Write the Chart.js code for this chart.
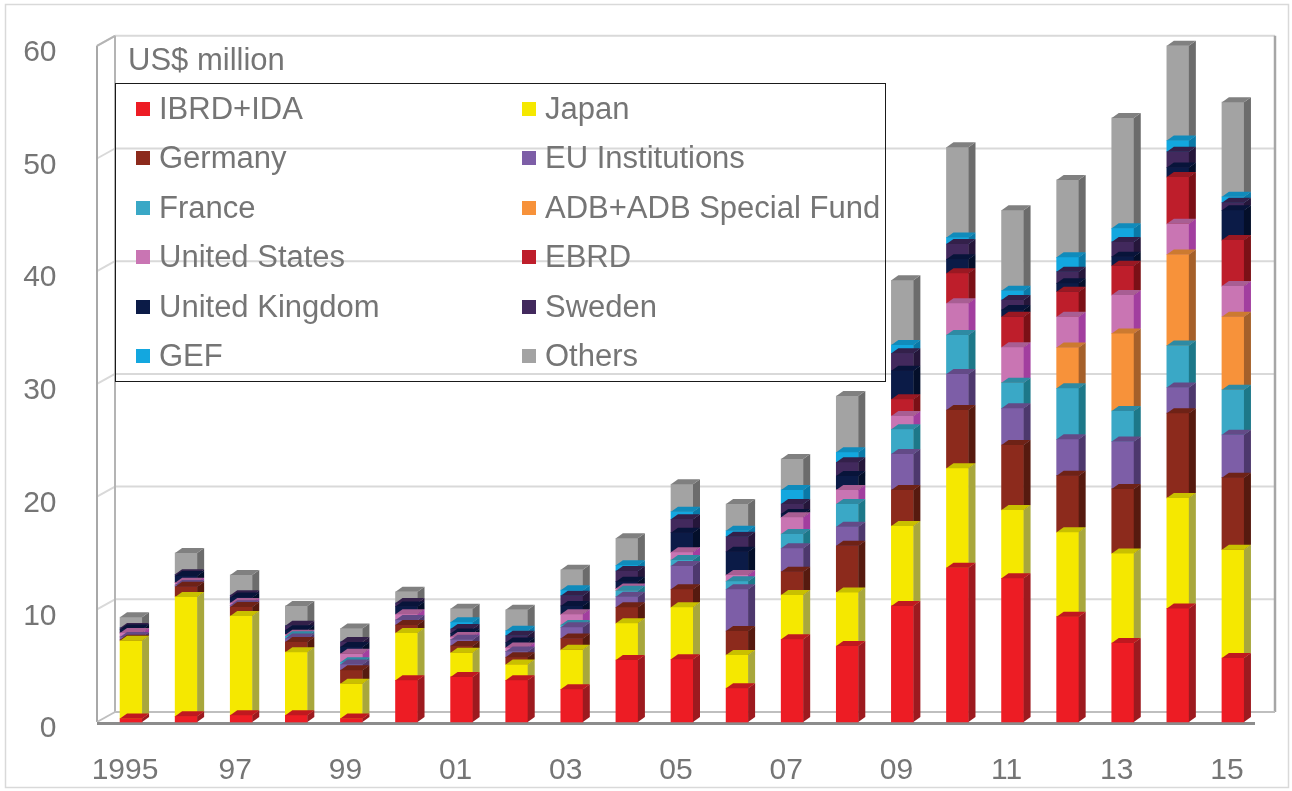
<!DOCTYPE html>
<html><head><meta charset="utf-8">
<script src="https://cdn.jsdelivr.net/npm/chart.js@4.4.1/dist/chart.umd.min.js"></script>
<style>
html,body{margin:0;padding:0;background:#fff;}
#wrap{position:relative;width:1292px;height:791px;overflow:hidden;font-family:"Liberation Sans",Arial,sans-serif;color:#757575;}
#c{position:absolute;left:0;top:0;}
#unit{position:absolute;left:128px;top:41px;font-size:31px;line-height:38px;white-space:nowrap;}
#legend{position:absolute;left:115px;top:83px;width:771px;height:299px;border:1.5px solid #1a1a1a;box-sizing:border-box;}
.li{position:absolute;height:38px;line-height:38px;font-size:31px;white-space:nowrap;}
.sw{position:absolute;width:14px;height:14px;top:12px;left:0;}
.tx{position:absolute;left:23px;top:0;}
</style></head>
<body>
<div id="wrap">
<canvas id="c" width="1292" height="791"></canvas>
<div id="unit">US$ million</div>
<div id="legend"></div>
</div>
<script>
// ---- data (US$ million) ----
const years = ['1995','1996','1997','1998','1999','2000','2001','2002','2003','2004','2005','2006','2007','2008','2009','2010','2011','2012','2013','2014','2015'];
const xTickLabels = ['1995','','97','','99','','01','','03','','05','','07','','09','','11','','13','','15'];
const seriesNames = ['IBRD+IDA','Japan','Germany','EU Institutions','France','ADB+ADB Special Fund','United States','EBRD','United Kingdom','Sweden','GEF','Others'];

const ibrdIda       = [0.3,0.5,0.6,0.6,0.3,3.7,4.0,3.7,2.9,5.5,5.56,3.0,7.34,6.74,10.3,13.69,12.75,9.35,7.0,10.08,5.68];
const japan         = [6.9,10.6,8.8,5.6,3.1,4.2,2.15,1.4,3.5,3.26,4.62,2.95,3.93,4.76,7.09,8.82,6.06,7.48,7.96,9.8,9.6];
const germany       = [0.1,0.9,0.8,0.9,1.2,0.7,0.6,0.65,1.0,1.42,1.6,2.12,2.07,4.14,3.2,5.17,5.77,5.03,5.72,7.52,6.4];
const euInstitutions= [0.25,0.15,0.15,0.3,0.5,0.45,0.55,0.5,1.0,0.94,2.06,3.71,2.07,1.69,3.19,3.2,3.25,3.22,4.2,2.28,3.8];
const france        = [0,0,0,0.2,0.2,0,0,0,0.2,0.53,0.53,0.72,1.27,2.01,2.19,3.46,2.28,4.53,2.72,3.72,4.0];
const adb           = [0,0,0,0,0,0,0,0,0,0,0,0,0,0,0,0,0,3.61,6.88,8.08,6.48];
const unitedStates  = [0.35,0.2,0.2,0.15,0.75,0.5,0.25,0.35,0.95,0.2,0.69,0.54,1.48,1.25,1.18,2.81,3.14,2.74,3.4,2.72,2.72];
const ebrd          = [0,0,0,0,0,0,0,0,0,0,0,0,0,0,1.48,2.66,2.71,2.22,2.6,4.16,4.08];
const unitedKingdom = [0.3,0.6,0.5,0.4,0.6,0.7,0.3,0.45,0.75,0.6,1.74,2.06,0.3,1.24,2.54,1.25,0.6,0.75,0.8,0.84,2.64];
const sweden        = [0.15,0.15,0.2,0.4,0.45,0.3,0.4,0.6,0.9,0.95,1.18,1.34,0.88,1.21,1.54,1.35,0.88,1.03,1.32,1.4,0.68];
const gef           = [0,0,0,0,0,0,0.6,0.45,0.5,0.5,0.68,0.53,1.25,0.89,0.74,0.59,0.83,1.27,1.2,1.0,0.52];
const others        = [0.95,1.9,1.8,1.75,1.2,1.0,1.2,1.85,1.8,2.4,2.44,2.37,2.75,5.0,5.75,8.0,7.13,6.87,9.8,8.4,8.4];

const seriesValues = [ibrdIda,japan,germany,euInstitutions,france,adb,unitedStates,ebrd,unitedKingdom,sweden,gef,others];
const frontColors = ['#ed1c24','#f5e800','#8c2a1c','#7d5ea7','#3aa8c6','#f7923a','#c975b3','#be1e2b','#0b1b47','#42295d','#13a7df','#a3a3a3'];
const sideColors  = ['#9d1a1f','#a8a73c','#561a0f','#4d386d','#1d7889','#a5602a','#a23e9f','#7b1016','#040f2a','#25163a','#0a79a7','#6c6c6c'];
const topColors   = ['#c0181f','#c9c000','#6e2216','#634a87','#2e8aa3','#cc7a30','#a85e93','#9a1822','#08143a','#33204a','#108bbb','#808080'];

const DX = 7, DY = -5;          // bar depth
const WALL_DX = 18, WALL_DY = -10; // back wall offset

const scene3d = {
  id: 'scene3d',
  beforeDraw(chart) {
    const ctx = chart.ctx;
    ctx.save();
    ctx.strokeStyle = '#d9d9d9'; ctx.lineWidth = 1.5;
    ctx.strokeRect(5.5, 4.5, 1283, 783);
    ctx.restore();
  },
  beforeDatasetsDraw(chart) {
    const ctx = chart.ctx, ys = chart.scales.y;
    const wallL = 97, backL = wallL + WALL_DX, backR = 1275, frontR = 1255;
    const y0 = ys.getPixelForValue(0), yTop = ys.getPixelForValue(60);
    ctx.save();
    ctx.lineWidth = 2;
    for (let v = 10; v <= 60; v += 10) {
      const yf = ys.getPixelForValue(v), yb = yf + WALL_DY;
      ctx.strokeStyle = '#d9d9d9';
      ctx.beginPath(); ctx.moveTo(backL, yb); ctx.lineTo(backR, yb); ctx.stroke();
      ctx.beginPath(); ctx.moveTo(wallL, yf); ctx.lineTo(backL, yb); ctx.stroke();
    }
    ctx.strokeStyle = '#a8a8a8'; ctx.lineWidth = 2;
    ctx.beginPath(); ctx.moveTo(wallL, yTop); ctx.lineTo(wallL, y0); ctx.stroke();
    ctx.strokeStyle = '#b4b4b4';
    ctx.beginPath(); ctx.moveTo(backL, yTop + WALL_DY); ctx.lineTo(backL, y0 + WALL_DY); ctx.stroke();
    ctx.beginPath(); ctx.moveTo(wallL, yTop); ctx.lineTo(backL, yTop + WALL_DY); ctx.stroke();
    ctx.strokeStyle = '#a6a6a6'; ctx.lineWidth = 2.5;
    ctx.beginPath(); ctx.moveTo(backR, yTop + WALL_DY); ctx.lineTo(backR, y0 + WALL_DY); ctx.stroke();
    ctx.strokeStyle = '#bfbfbf'; ctx.lineWidth = 2;
    ctx.beginPath(); ctx.moveTo(backL, y0 + WALL_DY); ctx.lineTo(backR, y0 + WALL_DY); ctx.stroke();
    ctx.beginPath(); ctx.moveTo(wallL, y0); ctx.lineTo(backL, y0 + WALL_DY); ctx.stroke();
    ctx.strokeStyle = '#8c8c8c'; ctx.lineWidth = 3;
    ctx.beginPath(); ctx.moveTo(wallL, y0 + 1.5); ctx.lineTo(frontR, y0 + 1.5); ctx.stroke();
    ctx.restore();
  },
  afterDatasetDraw(chart, args) {
    const ctx = chart.ctx, i = args.index, meta = args.meta;
    ctx.save();
    meta.data.forEach(el => {
      const p = el.getProps(['x','y','base','width'], true);
      const h = p.base - p.y;
      if (!(h > 0.05)) return;
      const l = p.x - p.width / 2, r = p.x + p.width / 2;
      ctx.fillStyle = sideColors[i];
      ctx.beginPath();
      ctx.moveTo(r, p.y); ctx.lineTo(r + DX, p.y + DY); ctx.lineTo(r + DX, p.base + DY); ctx.lineTo(r, p.base);
      ctx.closePath(); ctx.fill();
      ctx.fillStyle = topColors[i];
      ctx.beginPath();
      ctx.moveTo(l, p.y); ctx.lineTo(l + DX, p.y + DY); ctx.lineTo(r + DX, p.y + DY); ctx.lineTo(r, p.y);
      ctx.closePath(); ctx.fill();
    });
    ctx.restore();
  }
};

const datasets = seriesNames.map((name, i) => ({
  label: name,
  data: seriesValues[i],
  backgroundColor: frontColors[i],
  borderWidth: 0,
  barThickness: 22,
  clip: false
}));

const chart = new Chart(document.getElementById('c'), {
  type: 'bar',
  data: { labels: years, datasets },
  options: {
    responsive: false,
    animation: false,
    devicePixelRatio: 1,
    layout: { padding: { left: 0, right: 31.5, top: 45.8, bottom: 0 } },
    plugins: { legend: { display: false }, tooltip: { enabled: false } },
    scales: {
      x: {
        stacked: true,
        grid: { display: false, drawTicks: false },
        border: { display: false },
        ticks: {
          autoSkip: false, maxRotation: 0, minRotation: 0,
          padding: 31, labelOffset: -6, color: '#757575',
          font: { family: '"Liberation Sans", Arial, sans-serif', size: 30 },
          callback: (v, idx) => xTickLabels[idx]
        },
        afterFit(s) { s.height = 69; s.paddingLeft = 0; s.paddingRight = 0; }
      },
      y: {
        stacked: true, min: 0, max: 60,
        grid: { display: false, drawTicks: false },
        border: { display: false },
        ticks: {
          stepSize: 10, padding: 47, labelOffset: 7, color: '#757575',
          font: { family: '"Liberation Sans", Arial, sans-serif', size: 30 }
        },
        afterFit(s) { s.width = 103.5; s.paddingTop = 0; s.paddingBottom = 0; }
      }
    }
  },
  plugins: [scene3d]
});

const lg = document.getElementById('legend');
chart.data.datasets.forEach((ds, i) => {
  const col = i % 2, row = Math.floor(i / 2);
  const d = document.createElement('div');
  d.className = 'li';
  d.style.left = (col === 0 ? 20 : 406) + 'px';
  d.style.top = (6 + row * 49.4) + 'px';
  d.innerHTML = '<span class="sw" style="background:' + ds.backgroundColor + '"></span><span class="tx">' + ds.label + '</span>';
  lg.appendChild(d);
});
</script>
</body></html>
